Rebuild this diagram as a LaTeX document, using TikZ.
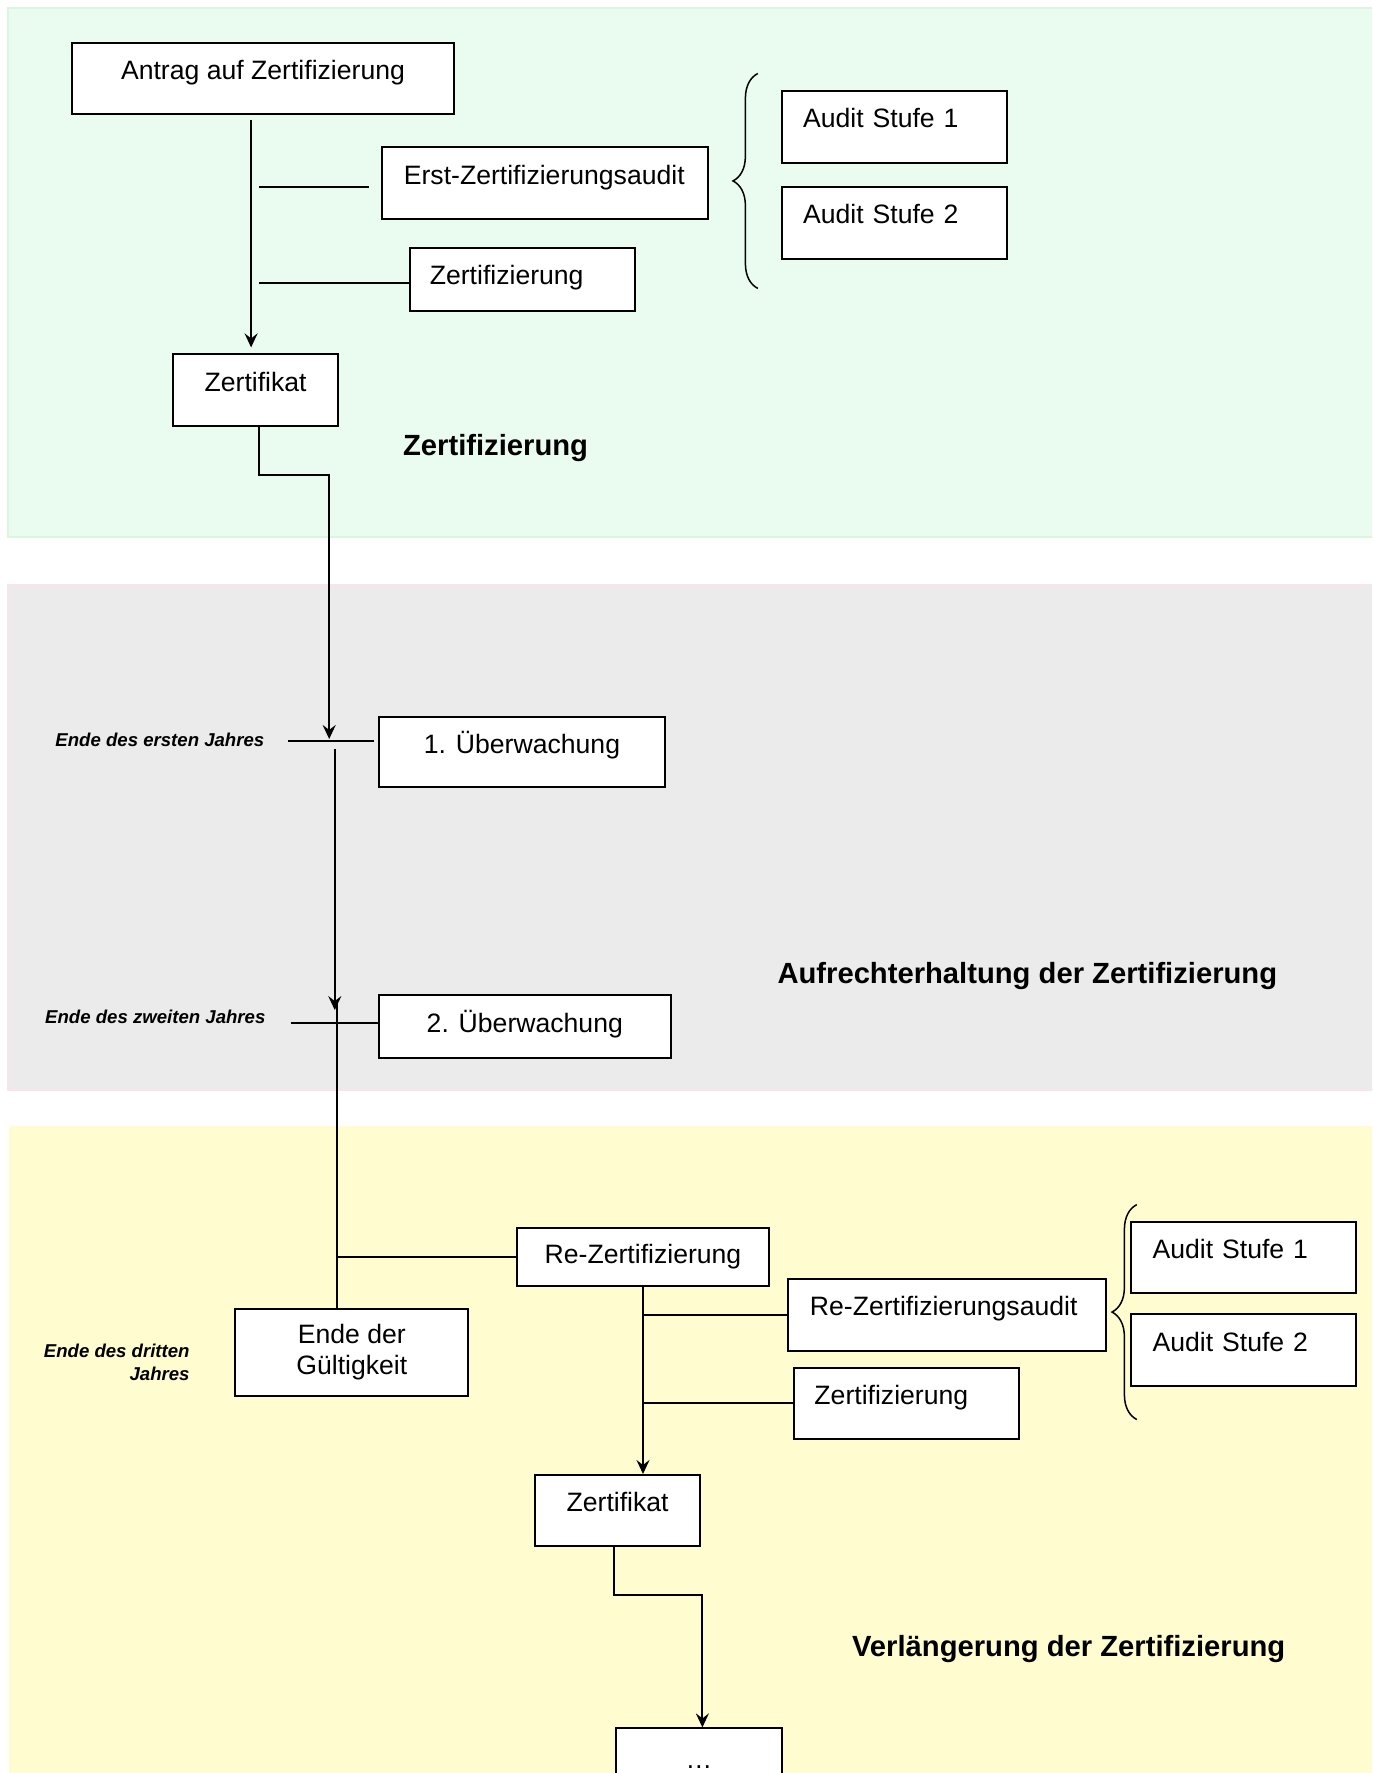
\documentclass[tikz,border=0pt]{standalone}
\usepackage{fontspec}
\setmainfont{Liberation Sans}
\usetikzlibrary{arrows.meta,decorations.pathreplacing}
\newcommand{\boxfont}{\fontsize{13.3}{15.3}\selectfont}
\newcommand{\headfont}{\fontsize{14.6}{17}\selectfont\bfseries}
\newcommand{\yearfont}{\fontsize{9.3}{11.35}\selectfont\bfseries\itshape}
\definecolor{gfill}{HTML}{EAFBEF}
\definecolor{gline}{HTML}{DAF6E0}
\definecolor{grfill}{HTML}{EBEBEB}
\definecolor{grline}{HTML}{FBE3EB}
\definecolor{yfill}{HTML}{FFFDD0}
\begin{document}
\begin{tikzpicture}[x=0.5pt,y=-0.5pt,
  bx/.style={draw=black, line width=1pt, fill=white, inner sep=0pt, font=\boxfont},
  one/.style={bx, text height=9.5pt, text depth=#1pt},
  ln/.style={line width=1pt, draw=black},
  arr/.style={ln, -{Stealth[length=7pt,width=6.5pt,inset=2.5pt]}},
  head/.style={font=\headfont, inner sep=0pt, text height=10.5pt, text depth=0pt, anchor=west},
  year/.style={font=\yearfont, inner sep=0pt, text height=6.7pt, text depth=0pt, anchor=east},
  brc/.style={draw=black, line width=0.75pt, decorate, decoration={brace, amplitude=12.4pt}},
]
\useasboundingbox (0,0) rectangle (1372,1773);
\clip (0,0) rectangle (1372,1773);

% bands
\filldraw[fill=gfill, draw=gline, line width=1pt] (7.9,7.9) rectangle (1385,537);
\filldraw[fill=grfill, draw=grline, line width=1pt] (7.9,585) rectangle (1385,1090);
\fill[yfill] (8.5,1126) rectangle (1385,1800);

% boxes
\node[one=8.5, minimum width=190.6pt, minimum height=35.6pt] (antrag) at (263,78.6) {Antrag auf Zertifizierung};
\node[one=8, minimum width=162.85pt, minimum height=36.2pt, align=left, text width=141.35pt] (erst) at (545.2,183.2) {Erst-Zertifizierungsaudit};
\node[one=4.5, minimum width=112.5pt, minimum height=31.65pt, align=left, text width=92.2pt] (zertA) at (522,279.4) {Zertifizierung};
\node[one=8, minimum width=82.6pt, minimum height=36.2pt] (zkA) at (255.6,390.2) {Zertifikat};
\node[one=9, minimum width=112.55pt, minimum height=36.2pt, align=left, text width=91.05pt] (asA1) at (894.2,126.7) {Audit Stufe 1};
\node[one=9, minimum width=112.55pt, minimum height=36.2pt, align=left, text width=91.05pt] (asA2) at (894.2,222.8) {Audit Stufe 2};

\node[one=8, minimum width=143.1pt, minimum height=35.1pt] (uew1) at (522,752.2) {1. Überwachung};
\node[one=4, minimum width=145.9pt, minimum height=31.1pt] (uew2) at (524.8,1026.5) {2. Überwachung};

\node[one=3, minimum width=126.1pt, minimum height=28.8pt] (rez) at (643,1257.2) {Re-Zertifizierung};
\node[bx, align=center, minimum width=116.5pt, minimum height=43.55pt] (ende) at (351.8,1352.3) {Ende der\\Gültigkeit};
\node[one=8.5, minimum width=158.9pt, minimum height=35.6pt, align=left, text width=137.4pt] (reza) at (947.3,1314.9) {Re-Zertifizierungsaudit};
\node[one=8.5, minimum width=112.55pt, minimum height=35.65pt, align=left, text width=92.15pt] (zertB) at (906.6,1403.2) {Zertifizierung};
\node[one=8.5, minimum width=112.55pt, minimum height=35.65pt, align=left, text width=91.05pt] (asB1) at (1243.7,1257.3) {Audit Stufe 1};
\node[one=8.5, minimum width=112.55pt, minimum height=35.65pt, align=left, text width=91.05pt] (asB2) at (1243.7,1350) {Audit Stufe 2};
\node[one=8.5, minimum width=82.6pt, minimum height=35.6pt] (zkB) at (617.6,1510.6) {Zertifikat};
\node[one=5, minimum width=82.55pt, minimum height=35.6pt] (dots) at (699,1764) {…};

% braces
\draw[brc] (757.8,288.4) -- (757.8,73.5);
\draw[brc] (1136.8,1419.5) -- (1136.8,1204.6);

% headings
\node[head] (h1) at (402.7,444.5) {Zertifizierung};
\node[head] (h2) at (777.1,972.7) {Aufrechterhaltung der Zertifizierung};
\node[head] (h3) at (851.7,1645.8) {Verlängerung der Zertifizierung};

% year labels
\node[year] (l1) at (264.7,739.7) {Ende des ersten Jahres};
\node[year] (l2) at (265.8,1016.9) {Ende des zweiten Jahres};
\node[font=\yearfont, inner sep=0pt, align=right, anchor=north east] (l3) at (190,1343.6) {Ende des dritten\\Jahres};

% connectors: certification
\coordinate (a1) at (251.1,0);
\draw[arr, shorten <=2.3pt, shorten >=2.8pt] (antrag.south -| a1) -- (zkA.north -| a1);
\coordinate (e1) at (259,186.6);
\draw[ln, shorten >=6.2pt] (e1) -- (e1 -| erst.west);
\coordinate (z1) at (259,282.8);
\draw[ln] (z1) -- (z1 -| zertA.west);

\coordinate (k1) at (259,0);
\coordinate (bend1) at (329.2,475);
\coordinate (t1) at (329.2,739);
\draw[arr] (zkA.south -| k1) |- (bend1) -- (t1);

% maintenance
\coordinate (y1) at (288.4,740.9);
\draw[ln, shorten >=2.2pt] (y1) -- (y1 -| uew1.west);
\coordinate (v2a) at (334.8,748.8);
\coordinate (v2b) at (334.8,1010.1);
\draw[arr] (v2a) -- (v2b);
\coordinate (y2) at (290.7,1022.5);
\draw[ln] (y2) -- (y2 -| uew2.west);

% renewal
\coordinate (v3) at (337.1,1004);
\draw[ln] (v3) -- (v3 |- ende.north);
\draw[ln] (v3 |- rez.west) -- (rez.west);
\draw[arr] (rez.south) -- (rez.south |- zkB.north);
\draw[ln] (rez.south |- reza.west) -- (reza.west);
\draw[ln] (rez.south |- zertB.west) -- (zertB.west);

\coordinate (k2) at (614.2,0);
\coordinate (bend2) at (702.4,1594.9);
\draw[arr] (zkB.south -| k2) |- (bend2) -- (bend2 |- dots.north);
\end{tikzpicture}
\end{document}
